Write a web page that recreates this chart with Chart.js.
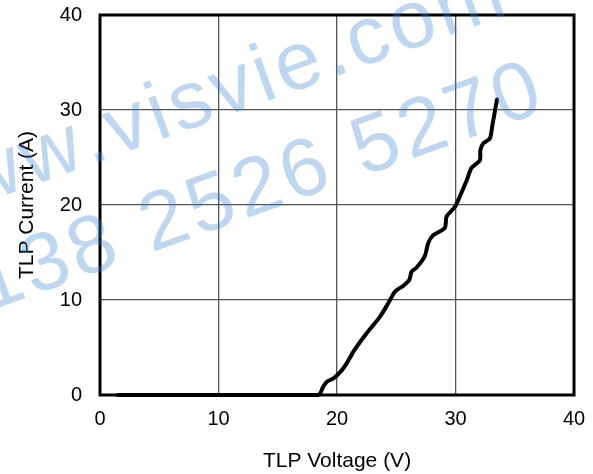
<!DOCTYPE html>
<html>
<head>
<meta charset="utf-8">
<script src="https://cdn.jsdelivr.net/npm/chart.js@4.4.1/dist/chart.umd.min.js"></script>
<style>
  html, body { margin: 0; padding: 0; background: #fff; }
</style>
</head>
<body>
<canvas id="tlpChart" width="593" height="474"></canvas>
<script>
// TLP I-V curve
const voltage = [1.5, 18.4, 18.85, 19.15, 19.7, 20.4, 20.8, 21.4, 22.5, 23.6, 24.3, 24.9, 25.6, 26.1, 26.3, 26.7, 27.4, 27.7, 28.1, 29.1, 29.25, 29.95, 30.4, 30.95, 31.35, 32.05, 32.1, 32.35, 32.9, 33.1, 33.5];
const current = [0, 0, 0.9, 1.4, 1.75, 2.6, 3.3, 4.6, 6.5, 8.2, 9.6, 10.9, 11.5, 12.1, 13.0, 13.4, 14.6, 16.0, 16.8, 17.6, 18.8, 19.8, 21.0, 22.6, 23.9, 24.7, 25.8, 26.5, 27.0, 28.3, 31.1];
const xTicks = [0, 10, 20, 30, 40];
const yTicks = [0, 10, 20, 30, 40];
const watermark = ['www.visvie.com', '138 2526 5270'];

const FONT = '"Liberation Sans", Arial, sans-serif';

// thick black frame round the plot area
const framePlugin = {
  id: 'frame',
  beforeDatasetsDraw(chart) {
    const { ctx, chartArea: a } = chart;
    ctx.save();
    ctx.strokeStyle = '#000';
    ctx.lineWidth = 3;
    ctx.strokeRect(a.left, a.top, a.right - a.left, a.bottom - a.top);
    ctx.restore();
  }
};

// the light blue watermark across the chart
const watermarkPlugin = {
  id: 'watermark',
  afterDraw(chart) {
    const ctx = chart.ctx;
    const angle = -Math.atan(0.36);
    const starts = [[-88, 229], [-14, 312]];
    ctx.save();
    ctx.fillStyle = 'rgba(60,130,210,0.33)';
    ctx.font = '82px ' + FONT;
    ctx.textBaseline = 'alphabetic';
    watermark.forEach((line, i) => {
      ctx.save();
      ctx.translate(starts[i][0], starts[i][1]);
      ctx.rotate(angle);
      let pos = 0;
      for (const ch of line) {
        ctx.fillText(ch, pos, 0);
        pos += ctx.measureText(ch).width + 4;
      }
      ctx.restore();
    });
    ctx.restore();
  }
};

// keep the plot box where the picture has it, whatever the labels need
const noPad = s => { s.paddingTop = 0; s.paddingBottom = 0; s.paddingLeft = 0; s.paddingRight = 0; };

const points = voltage.map((v, i) => ({ x: v, y: current[i] }));

new Chart(document.getElementById('tlpChart'), {
  type: 'scatter',
  data: {
    datasets: [{
      data: points,
      showLine: true,
      borderColor: '#000',
      borderWidth: 4,
      borderCapStyle: 'round',
      borderJoinStyle: 'round',
      pointRadius: 0,
      tension: 0.25,
      clip: false
    }]
  },
  options: {
    responsive: false,
    animation: false,
    layout: { padding: { top: 15, right: 19, left: 0, bottom: 0 } },
    plugins: { legend: { display: false }, tooltip: { enabled: false } },
    scales: {
      x: {
        type: 'linear',
        min: 0,
        max: 40,
        afterBuildTicks: s => { s.ticks = xTicks.map(v => ({ value: v })); },
        afterFit: s => { s.height = 79; noPad(s); },
        grid: { color: '#555', lineWidth: 1.3, drawTicks: false },
        border: { display: false },
        ticks: { color: '#000', padding: 12, font: { family: FONT, size: 20 } },
        title: {
          display: true,
          text: 'TLP Voltage (V)',
          color: '#000',
          padding: { top: 0, bottom: 0 },
          font: { family: FONT, size: 21 }
        }
      },
      y: {
        type: 'linear',
        min: 0,
        max: 40,
        afterBuildTicks: s => { s.ticks = yTicks.map(v => ({ value: v })); },
        afterFit: s => { s.width = 100; noPad(s); },
        grid: { color: '#555', lineWidth: 1.3, drawTicks: false },
        border: { display: false },
        ticks: { color: '#000', padding: 18, font: { family: FONT, size: 20 } },
        title: {
          display: true,
          text: 'TLP Current (A)',
          color: '#000',
          padding: { top: 15, bottom: 0 },
          font: { family: FONT, size: 21 }
        }
      }
    }
  },
  plugins: [framePlugin, watermarkPlugin]
});
</script>
</body>
</html>
